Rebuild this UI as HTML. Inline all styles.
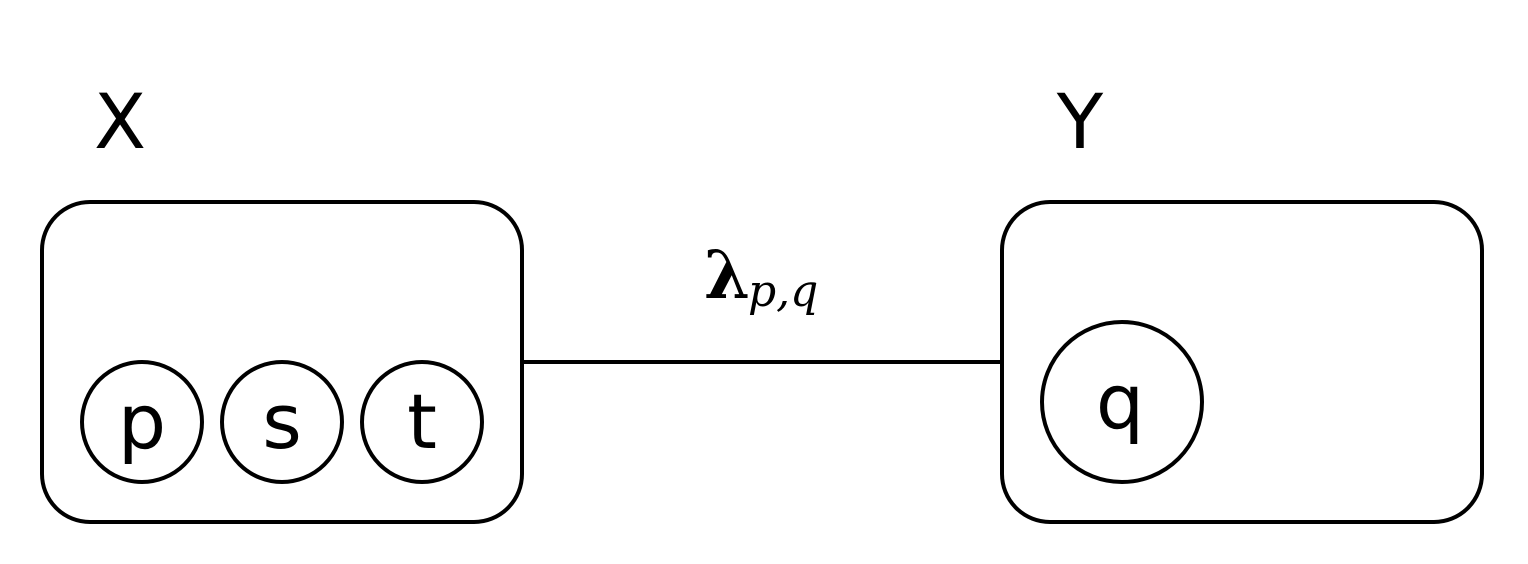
<!DOCTYPE html>
<html><head><style>html,body{margin:0;padding:0;background:#fff;width:1528px;height:564px;overflow:hidden}</style></head>
<body>
<svg width="1528" height="564" viewBox="0 0 1528 564" xmlns="http://www.w3.org/2000/svg">
<rect width="1528" height="564" fill="#fff"/>
<g fill="none" stroke="#000" stroke-width="4">
<rect x="42" y="202" width="480" height="320" rx="48"/>
<rect x="1002" y="202" width="480" height="320" rx="48"/>
<line x1="522" y1="362" x2="1002" y2="362"/>
<circle cx="142" cy="422" r="60"/>
<circle cx="282" cy="422" r="60"/>
<circle cx="422" cy="422" r="60"/>
<circle cx="1122" cy="402" r="80"/>
</g>
<g font-family="DejaVu Sans, sans-serif" font-size="76" text-anchor="middle" fill="#000">
<text x="120" y="148">X</text>
<text x="1080" y="148">Y</text>
<text x="142" y="448">p</text>
<text x="282" y="448">s</text>
<text x="422" y="448">t</text>
<text x="1120" y="428">q</text>
</g>
<text x="704" y="298" font-family="DejaVu Serif, serif" font-weight="bold" font-size="66">λ</text>
<text x="748" y="306" font-family="DejaVu Serif, serif" font-style="italic" font-size="44">p,q</text>
</svg>
</body></html>
